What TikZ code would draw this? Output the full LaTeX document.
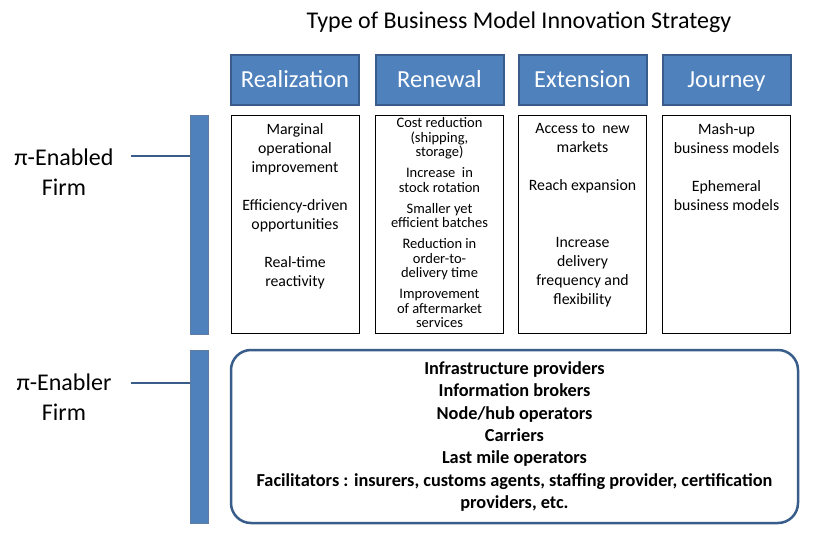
\documentclass[tikz,border=0pt]{standalone}
\usepackage{fontspec}
\setmainfont{Carlito}
\usepackage{tikz}
\usetikzlibrary{positioning}
\definecolor{accblue}{HTML}{4F81BD}
\definecolor{accedge}{HTML}{385D8A}

\begin{document}
\begin{tikzpicture}[x=1pt,y=-1pt,
    header/.style={draw=accedge, line width=2pt, fill=accblue, text=white, minimum width=128pt, minimum height=50pt, inner sep=0pt, text height=16pt, text depth=0pt, font=\fontsize{24.5}{28}\selectfont},
    column/.style={draw=black, line width=0.8pt, minimum width=128pt, minimum height=218pt, inner sep=0pt},
    items/.style={align=center, inner sep=0pt, font=\fontsize{15.8}{19}\selectfont},
    bar/.style={fill=accblue, draw=accedge!80, line width=0.6pt, minimum width=18pt, inner sep=0pt},
    firm/.style={align=center, inner sep=0pt, font=\fontsize{24}{30}\selectfont},
    link/.style={draw=accedge, line width=2.5pt}]
    \useasboundingbox (0,0) rectangle (815,546);

    % Title
    \node[inner sep=0pt, font=\fontsize{24}{28}\selectfont] (title) at (519,22) {Type of Business Model Innovation Strategy};

    % Strategy headers
    \node[header] (hreal) at (295,79.5) {Realization};
    \node[header] (hrenew) at (439.5,79.5) {Renewal};
    \node[header] (hext) at (582.5,79.5) {Extension};
    \node[header] (hjour) at (726.5,79.5) {Journey};

    % Columns of the pi-enabled firm
    \node[column] (creal) at (295,224) {};
    \node[column] (crenew) at (439.5,224) {};
    \node[column] (cext) at (582.5,224) {};
    \node[column] (cjour) at (726.5,224) {};

    \node[items, below=9pt of creal.north] (treal) {Marginal\\operational\\improvement\\[19pt]Efficiency-driven\\opportunities\\[19pt]Real-time\\reactivity};
    \node[items, below=3pt of crenew.north, font=\fontsize{14.5}{14.5}\selectfont] (trenew) {Cost reduction\\(shipping,\\storage)\\[6.5pt]Increase\ \ in\\stock rotation\\[6.5pt]Smaller yet\\efficient batches\\[6.5pt]Reduction in\\order-to-\\delivery time\\[6.5pt]Improvement\\of aftermarket\\services};
    \node[items, below=9pt of cext.north] (text) {Access to\ \ new\\markets\\[19pt]Reach expansion\\[38pt]Increase\\delivery\\frequency and\\flexibility};
    \node[items, below=9pt of cjour.north] (tjour) {Mash-up\\business models\\[19pt]Ephemeral\\business models};

    % Side bars and firm labels
    \node[bar, minimum height=219pt] (barA) at (199,224.5) {};
    \node[bar, minimum height=173pt] (barB) at (199,436.5) {};
    \node[firm] (enabled) at (64,172) {π-Enabled\\Firm};
    \node[firm] (enabler) at (64,397.5) {π-Enabler\\Firm};
    \coordinate (la) at (131,156);
    \coordinate (lb) at (131,383);
    \draw[link] (la) -- (la -| barA.west);
    \draw[link] (lb) -- (lb -| barB.west);

    % Pi-enabler firms
    \node[draw=accedge, line width=2.5pt, rounded corners=20pt, minimum width=567pt, minimum height=173pt, align=center, inner sep=0pt, font=\bfseries\fontsize{18.3}{22.4}\selectfont] (enablers) at (514.5,436.5) {Infrastructure providers\\Information brokers\\Node/hub operators\\Carriers\\Last mile operators\\Facilitators : insurers, customs agents, staffing provider, certification\\providers, etc.};
\end{tikzpicture}
\end{document}
